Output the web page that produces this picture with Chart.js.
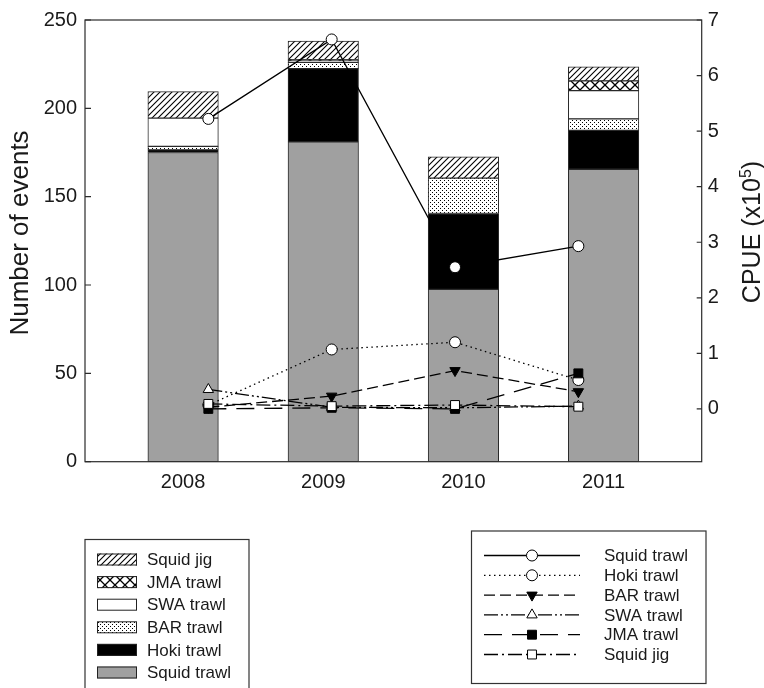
<!DOCTYPE html>
<html>
<head>
<meta charset="utf-8">
<script src="https://cdn.jsdelivr.net/npm/chart.js@4.4.1/dist/chart.umd.min.js"></script>
<style>
  html, body { margin: 0; padding: 0; background: #fff; }
  #wrap { width: 764px; height: 688px; }
</style>
</head>
<body>
<div id="wrap"><canvas id="chart" width="764" height="688"></canvas></div>
<script>
// years on the x axis
const years = [2008, 2009, 2010, 2011];

// number of events (left axis, stacked bars)
const squidTrawlEvents = [175, 181, 97.5, 165.5];
const hokiTrawlEvents  = [1.5, 41.5, 43, 22];
const barTrawlEvents   = [2, 3.5, 20, 6.5];
const swaTrawlEvents   = [16, 1, 0, 16];
const jmaTrawlEvents   = [0, 0.5, 0, 5.5];
const squidJigEvents   = [15, 10.5, 12, 8];

// CPUE x10^5 (right axis, lines)
const squidTrawlCpue = [5.22, 6.65, 2.55, 2.93];
const hokiTrawlCpue  = [0.07, 1.07, 1.2, 0.52];
const barTrawlCpue   = [0.03, 0.23, 0.69, 0.31];
const swaTrawlCpue   = [0.35, 0.03, 0.02, 0.05];
const jmaTrawlCpue   = [0, 0.02, 0, 0.64];
const squidJigCpue   = [0.09, 0.05, 0.07, 0.04];

const FONT = "'Liberation Sans', Arial, Helvetica, sans-serif";
Chart.defaults.font.family = FONT;
Chart.defaults.color = '#1a1a1a';

// fill patterns for the bar segments
function makePattern(kind) {
    const c = document.createElement('canvas');
    const size = kind === 'cross' ? 10 : (kind === 'hatch' ? 6 : 4);
    c.width = size; c.height = size;
    const g = c.getContext('2d');
    g.fillStyle = '#fff';
    g.fillRect(0, 0, size, size);
    g.strokeStyle = '#000';
    g.fillStyle = '#000';
    if (kind === 'hatch') {
        g.lineWidth = 1.1;
        g.beginPath();
        g.moveTo(0, size); g.lineTo(size, 0);
        g.moveTo(-2, 2); g.lineTo(2, -2);
        g.moveTo(size - 2, size + 2); g.lineTo(size + 2, size - 2);
        g.stroke();
    } else if (kind === 'cross') {
        g.lineWidth = 1.3;
        g.beginPath();
        g.moveTo(0, 0); g.lineTo(size, size);
        g.moveTo(0, size); g.lineTo(size, 0);
        g.stroke();
    } else if (kind === 'dots') {
        g.fillRect(0, 0, 1, 1);
        g.fillRect(2, 2, 1, 1);
    }
    return g.createPattern(c, 'repeat');
}

const barSeries = [
    { label: 'Squid trawl', data: squidTrawlEvents, fill: '#a0a0a0' },
    { label: 'Hoki trawl',  data: hokiTrawlEvents,  fill: '#000000' },
    { label: 'BAR trawl',   data: barTrawlEvents,   fill: makePattern('dots') },
    { label: 'SWA trawl',   data: swaTrawlEvents,   fill: '#ffffff' },
    { label: 'JMA trawl',   data: jmaTrawlEvents,   fill: makePattern('cross') },
    { label: 'Squid jig',   data: squidJigEvents,   fill: makePattern('hatch') }
];

const lineSeries = [
    { label: 'Squid trawl', data: squidTrawlCpue, dash: [],               shape: 'circle',   rot: 0,   filled: false, r: 5.5, order: 6 },
    { label: 'Hoki trawl',  data: hokiTrawlCpue,  dash: [1.5, 3.5],       shape: 'circle',   rot: 0,   filled: false, r: 5.5, order: 5 },
    { label: 'BAR trawl',   data: barTrawlCpue,   dash: [11, 5],          shape: 'triangle', rot: 180, filled: true,  r: 6,   order: 4 },
    { label: 'SWA trawl',   data: swaTrawlCpue,   dash: [14, 3, 2, 3, 2, 3], shape: 'triangle', rot: 0, filled: false, r: 6, order: 3 },
    { label: 'JMA trawl',   data: jmaTrawlCpue,   dash: [18, 10],         shape: 'rect',     rot: 0,   filled: true,  r: 6.3, order: 2 },
    { label: 'Squid jig',   data: squidJigCpue,   dash: [14, 4, 2, 4],    shape: 'rect',     rot: 0,   filled: false, r: 6.3, order: 1 }
];

const datasets = [];
barSeries.forEach(s => {
    datasets.push({
        type: 'bar',
        label: s.label,
        data: s.data,
        backgroundColor: s.fill,
        borderColor: '#2a2a2a',
        borderWidth: 1,
        borderSkipped: false,
        grouped: false,
        barThickness: 70.5,
        xAxisID: 'x',
        yAxisID: 'y',
        order: 10
    });
});
lineSeries.forEach(s => {
    datasets.push({
        type: 'line',
        label: s.label,
        data: s.data,
        borderColor: '#000',
        borderWidth: 1.3,
        borderDash: s.dash,
        pointStyle: s.shape,
        pointRotation: s.rot,
        pointRadius: s.r,
        pointBorderWidth: 1,
        pointBorderColor: '#000',
        pointBackgroundColor: s.filled ? '#000' : '#fff',
        fill: false,
        tension: 0,
        xAxisID: 'x2',
        yAxisID: 'y2',
        order: s.order
    });
});

function drawMarker(ctx, s, x, y) {
    const r = s.r;
    ctx.beginPath();
    if (s.shape === 'circle') {
        ctx.arc(x, y, r, 0, Math.PI * 2);
    } else if (s.shape === 'rect') {
        const h = r * Math.SQRT1_2;
        ctx.rect(x - h, y - h, 2 * h, 2 * h);
    } else {
        let rad = s.rot * Math.PI / 180;
        for (let i = 0; i < 3; i++) {
            const px = x + Math.sin(rad) * r, py = y - Math.cos(rad) * r;
            if (i === 0) ctx.moveTo(px, py); else ctx.lineTo(px, py);
            rad += 2 * Math.PI / 3;
        }
        ctx.closePath();
    }
    ctx.setLineDash([]);
    ctx.fillStyle = s.filled ? '#000' : '#fff';
    ctx.fill();
    ctx.lineWidth = 1;
    ctx.strokeStyle = '#000';
    ctx.stroke();
}

// plot frame and inward tick marks
const framePlugin = {
    id: 'frame',
    afterDatasetsDraw(chart) {
        const { ctx, chartArea: a, scales } = chart;
        ctx.save();
        ctx.strokeStyle = '#2b2b2b';
        ctx.lineWidth = 1.2;
        ctx.strokeRect(a.left, a.top, a.right - a.left, a.bottom - a.top);
        ctx.beginPath();
        scales.y.ticks.forEach(t => {
            const py = scales.y.getPixelForValue(t.value);
            ctx.moveTo(a.left, py); ctx.lineTo(a.left + 6, py);
        });
        scales.y2.ticks.forEach(t => {
            const py = scales.y2.getPixelForValue(t.value);
            ctx.moveTo(a.right - 5, py); ctx.lineTo(a.right, py);
        });
        ctx.stroke();
        ctx.restore();
    }
};

// axis titles (both read bottom to top) and the two boxed legends
const legendPlugin = {
    id: 'boxLegends',
    afterDraw(chart) {
        const ctx = chart.ctx;
        ctx.save();
        ctx.fillStyle = '#1a1a1a';

        // left axis title
        ctx.translate(28, 233);
        ctx.rotate(-Math.PI / 2);
        ctx.font = '26px ' + FONT;
        ctx.textAlign = 'center';
        ctx.textBaseline = 'alphabetic';
        ctx.fillText('Number of events', 0, 0);
        ctx.setTransform(1, 0, 0, 1, 0, 0);

        // right axis title with superscript
        ctx.translate(760, 232);
        ctx.rotate(-Math.PI / 2);
        ctx.font = '25px ' + FONT;
        const main = 'CPUE (x10';
        const wMain = ctx.measureText(main).width;
        const wEnd = ctx.measureText(')').width;
        ctx.font = '16px ' + FONT;
        const wSup = ctx.measureText('5').width;
        let tx = -(wMain + wSup + wEnd) / 2;
        ctx.textAlign = 'left';
        ctx.font = '25px ' + FONT;
        ctx.fillText(main, tx, 0);
        ctx.font = '16px ' + FONT;
        ctx.fillText('5', tx + wMain, -9);
        ctx.font = '25px ' + FONT;
        ctx.fillText(')', tx + wMain + wSup, 0);
        ctx.setTransform(1, 0, 0, 1, 0, 0);

        // bar legend
        ctx.lineWidth = 1.2;
        ctx.strokeStyle = '#333';
        ctx.strokeRect(85, 539.5, 164, 160);
        ctx.font = '17px ' + FONT;
        ctx.textAlign = 'left';
        ctx.textBaseline = 'middle';
        const bars = barSeries.slice().reverse();
        bars.forEach((s, i) => {
            const cy = 559.5 + i * 22.6;
            ctx.fillStyle = s.fill;
            ctx.fillRect(97, cy - 6, 40, 12);
            ctx.lineWidth = 1;
            ctx.strokeStyle = '#222';
            ctx.strokeRect(97.5, cy - 5.5, 39, 11);
            ctx.fillStyle = '#1a1a1a';
            ctx.fillText(s.label, 147, cy + 1);
        });

        // line legend
        ctx.lineWidth = 1.2;
        ctx.strokeStyle = '#333';
        ctx.strokeRect(471.5, 531, 234.5, 152.5);
        lineSeries.forEach((s, i) => {
            const cy = 555.5 + i * 19.8;
            ctx.beginPath();
            ctx.setLineDash(s.dash);
            ctx.lineWidth = 1.3;
            ctx.strokeStyle = '#000';
            ctx.moveTo(484, cy); ctx.lineTo(580, cy);
            ctx.stroke();
            drawMarker(ctx, s, 532, cy);
            ctx.fillStyle = '#1a1a1a';
            ctx.font = '17px ' + FONT;
            ctx.fillText(s.label, 604, cy + 1);
        });
        ctx.restore();
    }
};

new Chart(document.getElementById('chart'), {
    data: { labels: years, datasets: datasets },
    options: {
        responsive: false,
        devicePixelRatio: 1,
        animation: false,
        layout: { padding: { top: 20, left: 0, right: 0, bottom: 0 } },
        plugins: {
            legend: { display: false },
            tooltip: { enabled: false }
        },
        scales: {
            x: {
                type: 'linear',
                position: 'bottom',
                min: 2007.3,
                max: 2011.7,
                offset: false,
                bounds: 'data',
                stacked: true,
                grid: { display: false, drawTicks: false, offset: false },
                border: { display: false },
                afterBuildTicks: scale => { scale.ticks = years.map(v => ({ value: v })); },
                afterFit: scale => { scale.height = 226.3; },
                ticks: {
                    font: { size: 20 },
                    padding: 9,
                    maxRotation: 0,
                    autoSkip: false,
                    callback: v => String(v)
                }
            },
            x2: {
                type: 'linear',
                min: 2007,
                max: 2012,
                display: false
            },
            y: {
                position: 'left',
                min: 0,
                max: 250,
                stacked: true,
                grid: { display: false, drawTicks: false },
                border: { display: false },
                afterFit: scale => { scale.width = 85; },
                ticks: { stepSize: 50, font: { size: 20 }, padding: 8 }
            },
            y2: {
                position: 'right',
                min: -0.95,
                max: 7,
                grid: { display: false, drawTicks: false },
                border: { display: false },
                afterBuildTicks: scale => { scale.ticks = scale.ticks.filter(t => t.value >= 0); },
                afterFit: scale => { scale.width = 62.3; },
                ticks: { stepSize: 1, font: { size: 20 }, padding: 6 }
            }
        }
    },
    plugins: [framePlugin, legendPlugin]
});
</script>
</body>
</html>
